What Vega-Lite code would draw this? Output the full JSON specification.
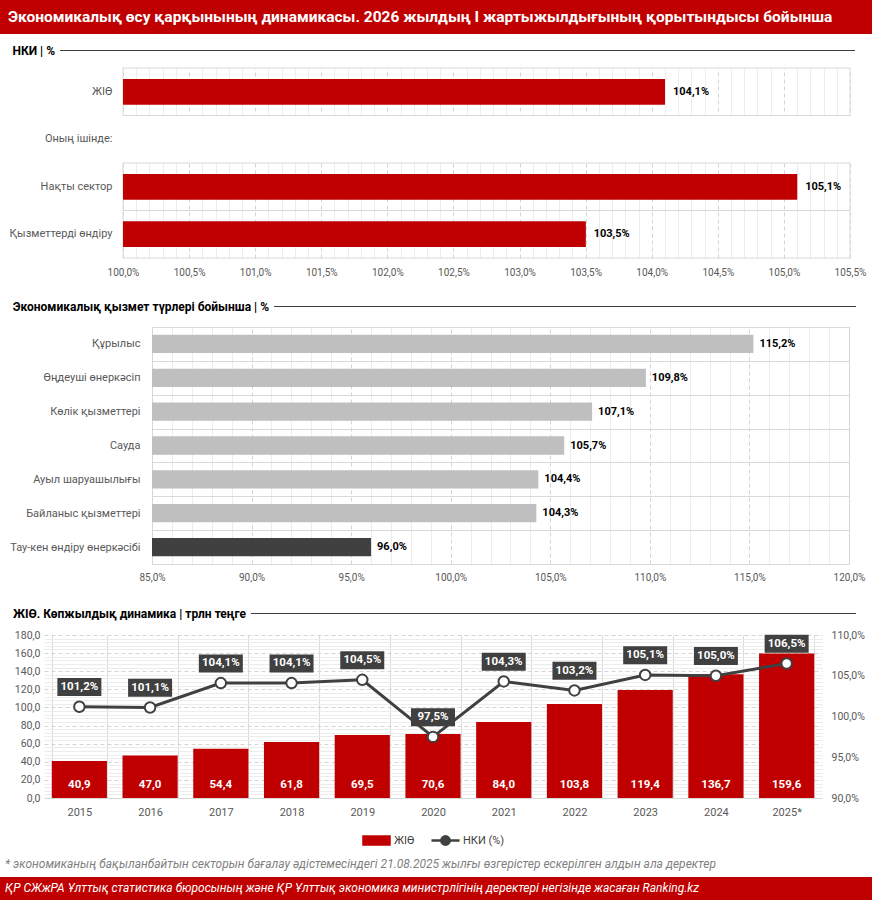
{
  "$schema": "https://vega.github.io/schema/vega-lite/v6.json",
  "background": "white",
  "padding": 0,
  "spacing": 0,
  "resolve": {"scale": {"color": "independent"}, "legend": {"color": "independent"}},
  "config": {
    "font": "Roboto",
    "view": {"stroke": null},
    "locale": {"number": {"decimal": ",", "thousands": " ", "grouping": [3], "currency": ["", "%"]}},
    "axis": {"labelFont": "Roboto", "titleFont": "Roboto"},
    "legend": {"layout": {"anchor": "middle"}},
    "title": {"font": "Roboto", "subtitleFont": "Roboto"}
  },
  "vconcat": [
    {
      "width": 872, "height": 34,
      "view": {"fill": "#c00000", "stroke": null},
      "data": {"values": [{"v": 0}]},
      "mark": {"type": "point", "opacity": 0},
      "encoding": {"x": {"field": "v", "type": "quantitative", "axis": {"labels": false, "ticks": false, "domain": false, "grid": false, "title": null, "minExtent": 10, "maxExtent": 10}}},
      "title": {"text": "Экономикалық өсу қарқынының динамикасы. 2026 жылдың I жартыжылдығының қорытындысы бойынша", "anchor": "start", "frame": "group", "orient": "top", "offset": -25, "dx": 8, "color": "white", "fontSize": 15.5, "fontWeight": "bold"}
    },
    {
      "hconcat": [
        {"width": 12, "height": 1, "data": {"values": [{}]}, "mark": {"type": "text", "text": ""}, "encoding": {}},
        {
          "width": 795, "height": 1,
          "view": {"fill": "#404040", "stroke": null},
          "data": {"values": [{"v": 0}]},
          "mark": {"type": "point", "opacity": 0},
          "encoding": {"x": {"field": "v", "type": "quantitative", "axis": {"labels": false, "ticks": false, "domain": false, "grid": false, "title": null, "minExtent": 11, "maxExtent": 11}}},
          "title": {"text": "НКИ | %", "orient": "left", "angle": 0, "anchor": "middle", "align": "left", "baseline": "middle", "offset": 5, "fontSize": 12, "fontWeight": "bold", "color": "#000000"}
        }
      ],
      "spacing": 0
    },
    {
      "hconcat": [
        {"width": 8, "height": 1, "data": {"values": [{}]}, "mark": {"type": "text", "text": ""}, "encoding": {}},
        {
          "width": 727, "height": 190,
          "data": {"values": [
            {"cat": "ЖІӨ", "v": 104.1},
            {"cat": "Оның ішінде:", "v": null},
            {"cat": "Нақты сектор", "v": 105.1},
            {"cat": "Қызметтерді өндіру", "v": 103.5}
          ]},
          "encoding": {
            "y": {"field": "cat", "type": "nominal", "sort": null,
              "scale": {"domain": ["ЖІӨ", "Оның ішінде:", "Нақты сектор", "Қызметтерді өндіру"], "paddingInner": 0, "paddingOuter": 0},
              "axis": {"title": null, "ticks": false, "domain": false, "grid": false, "labelPadding": 11, "labelFontSize": 11, "labelColor": "#595959", "labelLimit": 200, "minExtent": 113, "maxExtent": 113}}
          },
          "layer": [
            {
              "mark": {"type": "bar", "color": "#c00000", "height": {"band": 0.54}},
              "encoding": {
                "x": {"field": "v", "type": "quantitative", "scale": {"domain": [100, 105.5], "nice": false, "zero": false},
                  "axis": {"orient": "bottom", "tickCount": 1000,
                    "values": [100,100.1,100.2,100.3,100.4,100.5,100.6,100.7,100.8,100.9,101,101.1,101.2,101.3,101.4,101.5,101.6,101.7,101.8,101.9,102,102.1,102.2,102.3,102.4,102.5,102.6,102.7,102.8,102.9,103,103.1,103.2,103.3,103.4,103.5,103.6,103.7,103.8,103.9,104,104.1,104.2,104.3,104.4,104.5,104.6,104.7,104.8,104.9,105,105.1,105.2,105.3,105.4,105.5],
                    "format": "$.1f", "labelExpr": "round(datum.value * 10) % 5 == 0 ? datum.label : ''",
                    "labelOverlap": false, "labelFlush": false, "labelColor": "#595959", "labelFontSize": 10, "labelPadding": 9,
                    "ticks": false, "domain": false, "grid": true,
                    "gridColor": {"condition": {"test": "round(datum.value * 10) % 5 == 0", "value": "#d4d4d4"}, "value": "#ececec"},
                    "gridDash": {"condition": {"test": "round(datum.value * 10) % 5 == 0", "value": [4, 3]}, "value": []},
                    "title": null, "minExtent": 42, "maxExtent": 42}},
                "x2": {"datum": 100}
              }
            },
            {
              "transform": [{"filter": "datum.v == null"}],
              "mark": {"type": "rect", "fill": "white"},
              "encoding": {"x": {"datum": 99.96, "type": "quantitative"}, "x2": {"datum": 105.54}}
            },
            {
              "transform": [{"filter": "datum.v != null"}],
              "mark": {"type": "rect", "filled": false, "stroke": "#d9d9d9", "strokeWidth": 1},
              "encoding": {"x": {"datum": 100, "type": "quantitative"}, "x2": {"datum": 105.5}}
            },
            {
              "mark": {"type": "bar", "color": "#c00000", "height": {"band": 0.54}},
              "encoding": {"x": {"field": "v", "type": "quantitative"}, "x2": {"datum": 100}}
            },
            {
              "mark": {"type": "text", "align": "left", "dx": 8, "fontSize": 11, "fontWeight": "bold", "color": "#000000"},
              "encoding": {
                "x": {"field": "v", "type": "quantitative"},
                "text": {"field": "v", "type": "quantitative", "format": "$.1f"}
              }
            }
          ]
        }
      ],
      "spacing": 0
    },
    {
      "hconcat": [
        {"width": 12, "height": 1, "data": {"values": [{}]}, "mark": {"type": "text", "text": ""}, "encoding": {}},
        {
          "width": 582, "height": 1,
          "view": {"fill": "#404040", "stroke": null},
          "data": {"values": [{"v": 0}]},
          "mark": {"type": "point", "opacity": 0},
          "encoding": {"x": {"field": "v", "type": "quantitative", "axis": {"labels": false, "ticks": false, "domain": false, "grid": false, "title": null, "minExtent": 13, "maxExtent": 13}}},
          "title": {"text": "Экономикалық қызмет түрлері бойынша | %", "orient": "left", "angle": 0, "anchor": "middle", "align": "left", "baseline": "middle", "offset": 5, "fontSize": 12, "fontWeight": "bold", "color": "#000000"}
        }
      ],
      "spacing": 0
    },
    {
      "hconcat": [
        {"width": 8, "height": 1, "data": {"values": [{}]}, "mark": {"type": "text", "text": ""}, "encoding": {}},
        {
          "width": 697, "height": 237,
          "view": {"stroke": "#d9d9d9"},
          "data": {"values": [
            {"cat": "Құрылыс", "v": 115.2},
            {"cat": "Өңдеуші өнеркәсіп", "v": 109.8},
            {"cat": "Көлік қызметтері", "v": 107.1},
            {"cat": "Сауда", "v": 105.7},
            {"cat": "Ауыл шаруашылығы", "v": 104.4},
            {"cat": "Байланыс қызметтері", "v": 104.3},
            {"cat": "Тау-кен өндіру өнеркәсібі", "v": 96.0}
          ]},
          "encoding": {
            "y": {"field": "cat", "type": "nominal", "sort": null,
              "scale": {"paddingInner": 0, "paddingOuter": 0},
              "axis": {"title": null, "ticks": false, "domain": false, "grid": true, "tickBand": "extent", "gridColor": "#d9d9d9", "labelPadding": 12, "labelFontSize": 11, "labelColor": "#595959", "labelLimit": 200, "minExtent": 143, "maxExtent": 143}}
          },
          "layer": [
            {
              "mark": {"type": "bar", "height": {"band": 0.54}},
              "encoding": {
                "x": {"field": "v", "type": "quantitative", "scale": {"domain": [85, 120], "nice": false, "zero": false},
                  "axis": {"orient": "bottom", "tickCount": 1000,
                    "values": [85,86,87,88,89,90,91,92,93,94,95,96,97,98,99,100,101,102,103,104,105,106,107,108,109,110,111,112,113,114,115,116,117,118,119,120],
                    "format": "$.1f", "labelExpr": "datum.value % 5 == 0 ? datum.label : ''",
                    "labelOverlap": false, "labelFlush": false, "labelColor": "#595959", "labelFontSize": 10, "labelPadding": 8,
                    "ticks": false, "domain": false, "grid": true,
                    "gridColor": {"condition": {"test": "datum.value % 5 == 0", "value": "#d4d4d4"}, "value": "#ececec"},
                    "gridDash": {"condition": {"test": "datum.value % 5 == 0", "value": [4, 3]}, "value": []},
                    "title": null, "minExtent": 42, "maxExtent": 42}},
                "x2": {"datum": 85},
                "color": {"condition": {"test": "datum.v < 100", "value": "#404040"}, "value": "#bfbfbf"}
              }
            },
            {
              "mark": {"type": "text", "align": "left", "dx": 6, "fontSize": 11, "fontWeight": "bold", "color": "#000000"},
              "encoding": {
                "x": {"field": "v", "type": "quantitative"},
                "text": {"field": "v", "type": "quantitative", "format": "$.1f"}
              }
            }
          ]
        }
      ],
      "spacing": 0
    },
    {
      "hconcat": [
        {"width": 12, "height": 1, "data": {"values": [{}]}, "mark": {"type": "text", "text": ""}, "encoding": {}},
        {
          "width": 605, "height": 1,
          "view": {"fill": "#404040", "stroke": null},
          "data": {"values": [{"v": 0}]},
          "mark": {"type": "point", "opacity": 0},
          "encoding": {"x": {"field": "v", "type": "quantitative", "axis": {"labels": false, "ticks": false, "domain": false, "grid": false, "title": null, "minExtent": 15, "maxExtent": 15}}},
          "title": {"text": "ЖІӨ. Көпжылдық динамика | трлн теңге", "orient": "left", "angle": 0, "anchor": "middle", "align": "left", "baseline": "middle", "offset": 5, "fontSize": 12, "fontWeight": "bold", "color": "#000000"}
        }
      ],
      "spacing": 0
    },
    {
      "hconcat": [
        {"width": 8, "height": 1, "data": {"values": [{}]}, "mark": {"type": "text", "text": ""}, "encoding": {}},
        {
          "width": 778, "height": 163,
          "data": {"values": [
            {"year": "2015", "gdp": 40.9, "nki": 101.2},
            {"year": "2016", "gdp": 47.0, "nki": 101.1},
            {"year": "2017", "gdp": 54.4, "nki": 104.1},
            {"year": "2018", "gdp": 61.8, "nki": 104.1},
            {"year": "2019", "gdp": 69.5, "nki": 104.5},
            {"year": "2020", "gdp": 70.6, "nki": 97.5},
            {"year": "2021", "gdp": 84.0, "nki": 104.3},
            {"year": "2022", "gdp": 103.8, "nki": 103.2},
            {"year": "2023", "gdp": 119.4, "nki": 105.1},
            {"year": "2024", "gdp": 136.7, "nki": 105.0},
            {"year": "2025*", "gdp": 159.6, "nki": 106.5}
          ]},
          "encoding": {
            "x": {"field": "year", "type": "nominal", "sort": null,
              "scale": {"paddingInner": 0.22, "paddingOuter": 0.11},
              "axis": {"title": null, "labelAngle": 0, "ticks": false, "domain": true, "domainColor": "#d9d9d9", "grid": true, "tickBand": "extent", "gridColor": "#d9d9d9", "labelColor": "#595959", "labelFontSize": 11, "labelPadding": 8, "minExtent": 20, "maxExtent": 20}}
          },
          "layer": [
            {
              "layer": [
                {
                  "mark": {"type": "bar"},
                  "encoding": {
                    "y": {"field": "gdp", "type": "quantitative", "scale": {"domain": [0, 180], "nice": false},
                      "axis": {"orient": "left", "tickCount": 1000,
                        "values": [0,4,8,12,16,20,24,28,32,36,40,44,48,52,56,60,64,68,72,76,80,84,88,92,96,100,104,108,112,116,120,124,128,132,136,140,144,148,152,156,160,164,168,172,176,180],
                        "format": ".1f", "labelExpr": "datum.value % 20 == 0 ? datum.label : ''", "labelOverlap": false,
                        "grid": true,
                        "gridColor": {"condition": {"test": "datum.value % 20 == 0", "value": "#d4d4d4"}, "value": "#ececec"},
                        "gridDash": {"condition": {"test": "datum.value % 20 == 0", "value": [4, 3]}, "value": []},
                        "ticks": false, "domain": false, "labelColor": "#595959", "labelFontSize": 10.5, "labelPadding": 4, "title": null, "minExtent": 36, "maxExtent": 36}},
                    "color": {"datum": "ЖІӨ", "type": "nominal",
                      "scale": {"domain": ["ЖІӨ", "НКИ (%)"], "range": ["#c00000", "#404040"]},
                      "legend": {"title": null, "orient": "bottom", "direction": "horizontal", "offset": 0, "padding": 8, "gridAlign": "none", "symbolSize": 676, "symbolStrokeWidth": 2.5, "labelFontSize": 11, "labelColor": "#404040", "labelOffset": 3, "columnPadding": 11,
                        "encode": {"symbols": {"update": {
                          "shape": {"signal": "datum.value === 'ЖІӨ' ? 'M-1,-0.31H1V0.31H-1Z' : 'M-1.08,0H-0.32A0.32,0.32,0,1,1,0.32,0H1.08M0.32,0A0.32,0.32,0,1,1,-0.32,0'"},
                          "fill": {"signal": "datum.value === 'ЖІӨ' ? '#c00000' : 'white'"},
                          "stroke": {"signal": "datum.value === 'ЖІӨ' ? 'transparent' : '#404040'"},
                          "strokeWidth": {"value": 2.5},
                          "opacity": {"value": 1}
                        }}}}}
                  }
                },
                {
                  "mark": {"type": "text", "baseline": "middle", "dy": -13, "color": "white", "fontWeight": "bold", "fontSize": 11.5},
                  "encoding": {
                    "y": {"datum": 0, "type": "quantitative"},
                    "text": {"field": "gdp", "type": "quantitative", "format": ".1f"}
                  }
                }
              ]
            },
            {
              "encoding": {
                "y": {"field": "nki", "type": "quantitative", "scale": {"domain": [90, 110], "nice": false, "zero": false},
                  "axis": {"orient": "right", "values": [90, 95, 100, 105, 110], "format": "$.1f", "grid": false, "ticks": false, "domain": false, "labelColor": "#595959", "labelFontSize": 10.5, "labelPadding": 9, "title": null}}
              },
              "layer": [
                {
                  "mark": {"type": "line", "strokeWidth": 3},
                  "encoding": {"color": {"datum": "НКИ (%)", "type": "nominal"}}
                },
                {
                  "mark": {"type": "point", "filled": true, "fill": "white", "stroke": "#404040", "strokeWidth": 2, "size": 110, "opacity": 1},
                  "encoding": {}
                },
                {
                  "mark": {"type": "point", "shape": "M-11,-14.35H11V-5.35H-11Z", "filled": true, "color": "#404040", "size": 16, "opacity": 1},
                  "encoding": {}
                },
                {
                  "mark": {"type": "text", "dy": -19.7, "baseline": "middle", "color": "white", "fontWeight": "bold", "fontSize": 11.5},
                  "encoding": {"text": {"field": "nki", "type": "quantitative", "format": "$.1f"}}
                }
              ]
            }
          ],
          "resolve": {"scale": {"y": "independent"}, "axis": {"y": "independent"}}
        }
      ],
      "spacing": 0,
      "resolve": {"scale": {"color": "independent"}, "legend": {"color": "independent"}}
    },
    {
      "width": 872, "height": 23,
      "view": {"fill": "#c00000", "stroke": null},
      "data": {"values": [{}]},
      "mark": {"type": "text", "text": ""},
      "encoding": {},
      "title": {
        "text": "* экономиканың бақыланбайтын секторын бағалау әдістемесіндегі 21.08.2025 жылғы өзгерістер ескерілген алдын ала деректер",
        "subtitle": "ҚР СЖжРА Ұлттық статистика бюросының және ҚР Ұлттық экономика министрлігінің деректері негізінде жасаған Ranking.kz",
        "anchor": "start", "frame": "group", "orient": "top", "offset": -18, "dx": 5,
        "color": "#7f7f7f", "fontSize": 12, "fontStyle": "italic", "fontWeight": "normal",
        "subtitleColor": "white", "subtitleFontSize": 12, "subtitleFontStyle": "italic", "subtitlePadding": 12
      }
    }
  ]
}
